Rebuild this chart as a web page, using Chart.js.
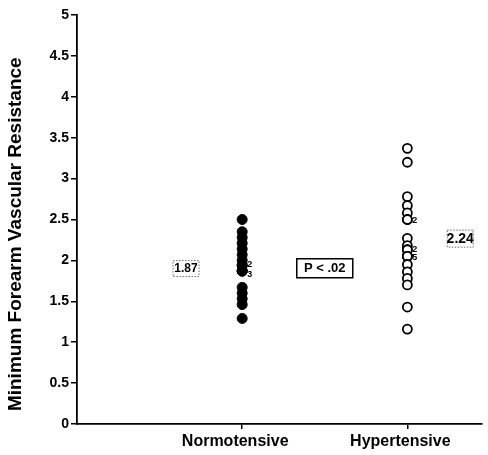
<!DOCTYPE html>
<html>
<head>
<meta charset="utf-8">
<script src="https://cdn.jsdelivr.net/npm/chart.js@4"></script>
<style>
  html, body { margin: 0; padding: 0; background: #fff; }
  #wrap { width: 488px; height: 455px; position: relative; }
</style>
</head>
<body>
<div id="wrap"><canvas id="grafico"></canvas></div>
<script>
const grupos = ['Normotensive', 'Hypertensive'];
const normotensos = [2.5, 2.35, 2.28, 2.21, 2.14, 2.07, 2.0, 1.94, 1.94, 1.87, 1.87, 1.87, 1.67, 1.6, 1.53, 1.46, 1.29];
const hipertensos = [3.37, 3.2, 2.78, 2.67, 2.58, 2.5, 2.5, 2.27, 2.18, 2.13, 2.13, 2.05, 2.05, 2.05, 2.05, 2.05, 1.95, 1.86, 1.78, 1.7, 1.43, 1.16];
const ticksY = [0, 0.5, 1, 1.5, 2, 2.5, 3, 3.5, 4, 4.5, 5];
const tituloY = 'Minimum Forearm Vascular Resistance';
const medias = ['1.87', '2.24'];
const pValor = 'P < .02';
// etiquetas de conteo junto a los puntos: [grupo, valor, texto]
const conteos = [[0, 1.95, '2'], [0, 1.83, '3'], [1, 2.49, '2'], [1, 2.13, '2'], [1, 2.04, '5']];

const fuente = '"Liberation Sans", Arial, sans-serif';

const anotaciones = {
  id: 'anotaciones',
  afterDatasetsDraw(chart) {
    const ctx = chart.ctx;
    const x = chart.scales.x, y = chart.scales.y;
    ctx.save();
    ctx.fillStyle = '#000';
    ctx.textBaseline = 'middle';

    // título del eje Y (algo más abajo que el centro)
    ctx.save();
    ctx.translate(16, y.getPixelForValue(2.32));
    ctx.rotate(-Math.PI / 2);
    ctx.textAlign = 'center';
    ctx.font = 'bold 19px ' + fuente;
    ctx.fillText(tituloY, 0, 0);
    ctx.restore();

    // conteos
    ctx.font = 'bold 9px ' + fuente;
    ctx.textAlign = 'left';
    conteos.forEach(([g, v, t]) => {
      ctx.fillText(t, x.getPixelForValue(g + 1) + 5, y.getPixelForValue(v));
    });

    // media normotensos
    ctx.textAlign = 'center';
    ctx.font = 'bold 12px ' + fuente;
    let cx = x.getPixelForValue(0.66), cy = y.getPixelForValue(1.9);
    ctx.fillText(medias[0], cx, cy);
    ctx.setLineDash([1.5, 1.5]);
    ctx.strokeStyle = '#666';
    ctx.lineWidth = 1;
    ctx.strokeRect(cx - 13, cy - 8, 26, 16);

    // media hipertensos
    ctx.font = 'bold 14px ' + fuente;
    cx = x.getPixelForValue(2.32); cy = y.getPixelForValue(2.26);
    ctx.fillText(medias[1], cx, cy);
    ctx.strokeRect(cx - 13, cy - 9, 26, 17);

    // valor p
    ctx.setLineDash([]);
    ctx.strokeStyle = '#000';
    ctx.lineWidth = 1.5;
    ctx.font = 'bold 13px ' + fuente;
    cx = x.getPixelForValue(1.5); cy = y.getPixelForValue(1.91);
    ctx.fillText(pValor, cx, cy + 1);
    ctx.strokeRect(cx - 28, cy - 9, 56, 19);
    ctx.restore();
  }
};

function crearGrafico() {
  const ctx = document.getElementById('grafico').getContext('2d');
  new Chart(ctx, {
    type: 'scatter',
    data: {
      datasets: [
        {
          label: grupos[0],
          data: normotensos.map(v => ({ x: 1, y: v })),
          pointRadius: 5,
          pointBackgroundColor: '#000',
          pointBorderColor: '#000',
          pointBorderWidth: 1
        },
        {
          label: grupos[1],
          data: hipertensos.map(v => ({ x: 2, y: v })),
          pointRadius: 4.5,
          pointBackgroundColor: '#fff',
          pointBorderColor: '#000',
          pointBorderWidth: 1.8
        }
      ]
    },
    options: {
      responsive: true,
      maintainAspectRatio: false,
      animation: false,
      layout: { padding: { top: 15, right: 0, left: 0, bottom: 0 } },
      plugins: { legend: { display: false }, tooltip: { enabled: false } },
      scales: {
        x: {
          type: 'linear',
          min: 0,
          max: 2.45,
          afterBuildTicks: s => { s.ticks = [{ value: 1 }, { value: 2 }]; },
          afterFit: s => { s.height = 31; },
          ticks: {
            callback: v => grupos[v - 1],
            color: '#000',
            font: { family: fuente, size: 16, weight: 'bold' },
            padding: 3,
            labelOffset: -7,
            maxRotation: 0
          },
          grid: { drawOnChartArea: false, tickLength: 5, color: '#000', lineWidth: 1.5 },
          border: { color: '#000', width: 1.8 }
        },
        y: {
          min: 0,
          max: 5,
          afterBuildTicks: s => { s.ticks = ticksY.map(v => ({ value: v })); },
          afterFit: s => { s.width = 77; },
          ticks: {
            callback: v => String(v),
            color: '#000',
            font: { family: fuente, size: 14, weight: 'bold' },
            padding: 2
          },
          grid: { drawOnChartArea: false, tickLength: 6, color: '#000', lineWidth: 1.5 },
          border: { color: '#000', width: 1.8 }
        }
      }
    },
    plugins: [anotaciones]
  });
}

document.addEventListener('DOMContentLoaded', crearGrafico);
</script>
</body>
</html>
